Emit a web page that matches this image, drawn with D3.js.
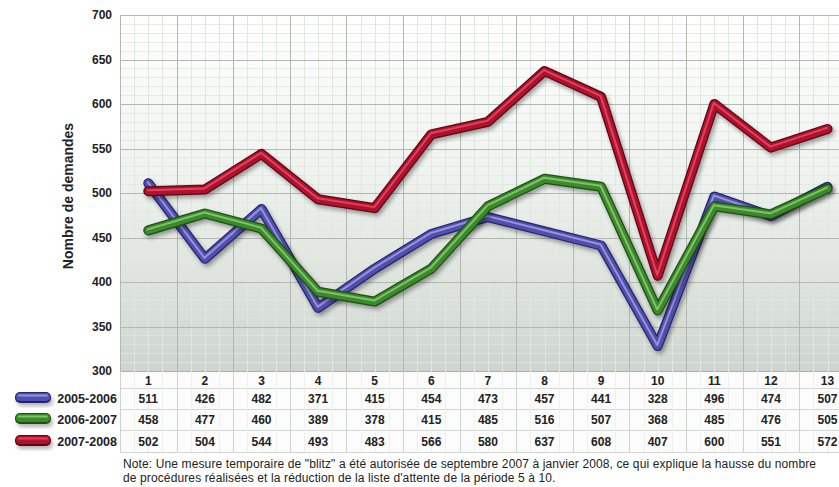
<!DOCTYPE html>
<html><head><meta charset="utf-8">
<script src="https://cdn.jsdelivr.net/npm/d3@7/dist/d3.min.js"></script>
<style>
html,body{margin:0;padding:0;background:#fff;overflow:hidden}
svg{display:block;font-family:Arial,"Liberation Sans",sans-serif}
</style></head><body>
<svg id="chart" width="839" height="487"></svg>
<script>
const categories = ["1","2","3","4","5","6","7","8","9","10","11","12","13"];
const seriesNames = ["2005-2006","2006-2007","2007-2008"];
const values2005 = [511,426,482,371,415,454,473,457,441,328,496,474,507];
const values2006 = [458,477,460,389,378,415,485,516,507,368,485,476,505];
const values2007 = [502,504,544,493,483,566,580,637,608,407,600,551,572];
const yTicks = [300,350,400,450,500,550,600,650,700];
const yTitle = "Nombre de demandes";
const noteLines = [
  "Note: Une mesure temporaire de \"blitz\" a été autorisée de septembre 2007 à janvier 2008, ce qui explique la hausse du nombre",
  "de procédures réalisées et la réduction de la liste d'attente de la période 5 à 10."
];
const series = [
  {name: seriesNames[0], values: values2005, dark:"#25226e", main:"#5050ac", light:"#a4a4e6"},
  {name: seriesNames[1], values: values2006, dark:"#1d4f12", main:"#3d8a2c", light:"#8fd07a"},
  {name: seriesNames[2], values: values2007, dark:"#5a0612", main:"#b0122e", light:"#e8506a"}
];

const svg = d3.select("#chart");
const pLeft = 120, pTop = 15, pBottom = 371, step = 56.6;
const pRight = pLeft + step*categories.length;

const x = d3.scaleBand().domain(categories).range([pLeft, pRight]).paddingInner(0).paddingOuter(0);
const y = d3.scaleLinear().domain([300,700]).range([pBottom, pTop]);

const defs = svg.append("defs");
const bg = defs.append("linearGradient").attr("id","bg").attr("x1",0).attr("y1",0).attr("x2",0).attr("y2",1);
bg.append("stop").attr("offset","0%").attr("stop-color","#ffffff");
bg.append("stop").attr("offset","45%").attr("stop-color","#eff3ef");
bg.append("stop").attr("offset","100%").attr("stop-color","#ced5ce");
const shadow = defs.append("filter").attr("id","shadow").attr("x","-10%").attr("y","-10%").attr("width","120%").attr("height","130%");
shadow.append("feGaussianBlur").attr("stdDeviation",2.2);
const soft = defs.append("filter").attr("id","soft");
soft.append("feGaussianBlur").attr("stdDeviation",0.5);

svg.append("rect").attr("x",pLeft).attr("y",pTop).attr("width",pRight-pLeft).attr("height",pBottom-pTop).attr("fill","url(#bg)");

// minor grid
const gMinor = svg.append("g").attr("stroke","#e0e6e0").attr("stroke-width",1);
for (let v=300; v<=700; v+=10) {
  if (v%50===0) continue;
  gMinor.append("line").attr("x1",pLeft).attr("x2",pRight).attr("y1",Math.round(y(v))+0.5).attr("y2",Math.round(y(v))+0.5).attr("stroke-opacity",0.8);
}
categories.forEach(c => {
  for (let k=1;k<4;k++){
    const xx = Math.round(x(c)+k*step/4)+0.5;
    gMinor.append("line").attr("x1",xx).attr("x2",xx).attr("y1",pTop).attr("y2",pBottom);
  }
});
// major grid
const gMajor = svg.append("g").attr("stroke","#b3b8b3").attr("stroke-width",1);
yTicks.forEach(v => {
  gMajor.append("line").attr("x1",pLeft).attr("x2",pRight).attr("y1",Math.round(y(v))+0.5).attr("y2",Math.round(y(v))+0.5);
});
categories.forEach((c,i) => {
  const xx = Math.round(x(c))+0.5;
  gMajor.append("line").attr("x1",xx).attr("x2",xx).attr("y1",pTop).attr("y2",pBottom);
});

// y axis labels
const yAxis = d3.axisLeft(y).tickValues(yTicks).tickSize(0).tickPadding(8);
const ya = svg.append("g").attr("transform",`translate(${pLeft},0)`).call(yAxis);
ya.select(".domain").remove();
ya.selectAll("text").attr("font-size",12).attr("font-weight","bold").attr("fill","#222").attr("font-family","Arial, 'Liberation Sans', sans-serif");

svg.append("text").attr("transform","translate(73,196) rotate(-90)").attr("text-anchor","middle")
  .attr("font-size",14).attr("font-weight","bold").attr("fill","#222").text(yTitle);

// lines
const line = d3.line().x((d,i)=>x(categories[i])+step/2).y(d=>y(d)).curve(d3.curveLinear);
const gl = svg.append("g").attr("stroke-linejoin","round").attr("stroke-linecap","round").attr("fill","none");
series.forEach(s => {
  const g = gl.append("g");
  g.append("path").attr("d",line(s.values)).attr("stroke","#000").attr("stroke-opacity",0.35).attr("stroke-width",10).attr("transform","translate(2,3)").attr("filter","url(#shadow)");
  g.append("path").attr("d",line(s.values)).attr("stroke",s.dark).attr("stroke-width",10);
  g.append("path").attr("d",line(s.values)).attr("stroke",s.main).attr("stroke-width",7.5);
  g.append("path").attr("d",line(s.values)).attr("stroke",s.light).attr("stroke-width",2).attr("stroke-opacity",0.8).attr("transform","translate(-0.5,-1)").attr("filter","url(#soft)");
});

// table
const rowY = [380, 398, 419, 441];
const rowEdges = [371, 388, 409, 430, 452];
const tg = svg.append("g");
tg.append("rect").attr("x",pLeft).attr("y",371).attr("width",pRight-pLeft).attr("height",81).attr("fill","#fbfcfb");
rowEdges.forEach((yy,i) => {
  tg.append("line").attr("x1",pLeft).attr("x2",pRight)
    .attr("y1",yy+0.5).attr("y2",yy+0.5).attr("stroke", i===0 ? "#aab0aa" : "#d2d6d2");
});
categories.forEach(c => {
  const xx = Math.round(x(c))+0.5;
  tg.append("line").attr("x1",xx).attr("x2",xx).attr("y1",371).attr("y2",452).attr("stroke","#cfd3cf");
  for (let k=1;k<4;k++){
    const x2 = Math.round(x(c)+k*step/4)+0.5;
    tg.append("line").attr("x1",x2).attr("x2",x2).attr("y1",371).attr("y2",452).attr("stroke","#eef0ee");
  }
});
tg.selectAll("text.cat").data(categories).join("text").attr("class","cat")
  .attr("x",c=>x(c)+step/2).attr("y",rowY[0]+4.5).attr("text-anchor","middle")
  .attr("font-size",12).attr("font-weight","bold").attr("fill","#222").text(c=>c);
series.forEach((s,si) => {
  tg.selectAll("text.v"+si).data(s.values).join("text").attr("class","v"+si)
    .attr("x",(d,i)=>x(categories[i])+step/2).attr("y",rowY[si+1]+4.5).attr("text-anchor","middle")
    .attr("font-size",12).attr("font-weight","bold").attr("fill","#222").text(d=>d);
  tg.append("text").attr("x",117).attr("y",rowY[si+1]+4.5).attr("text-anchor","end")
    .attr("font-size",12.5).attr("font-weight","bold").attr("fill","#222").text(s.name);
  const sy = rowY[si+1];
  const sw = tg.append("g");
  sw.append("rect").attr("x",16).attr("y",sy-4).attr("width",36).attr("height",10).attr("rx",5)
    .attr("fill","#000").attr("opacity",0.3).attr("filter","url(#shadow)").attr("transform","translate(1,2)");
  sw.append("rect").attr("x",15).attr("y",sy-6).attr("width",36).attr("height",11).attr("rx",5).attr("fill",s.dark);
  sw.append("rect").attr("x",16).attr("y",sy-5).attr("width",34).attr("height",8).attr("rx",4).attr("fill",s.main);
  sw.append("rect").attr("x",18).attr("y",sy-3.5).attr("width",30).attr("height",2).attr("rx",1).attr("fill",s.light).attr("opacity",0.8);
});

// note
noteLines.forEach((l,i) => svg.append("text").attr("x",123).attr("y",468+i*14)
  .attr("font-size",12).attr("letter-spacing",0.12).attr("fill","#222").text(l));
</script>
</body></html>
